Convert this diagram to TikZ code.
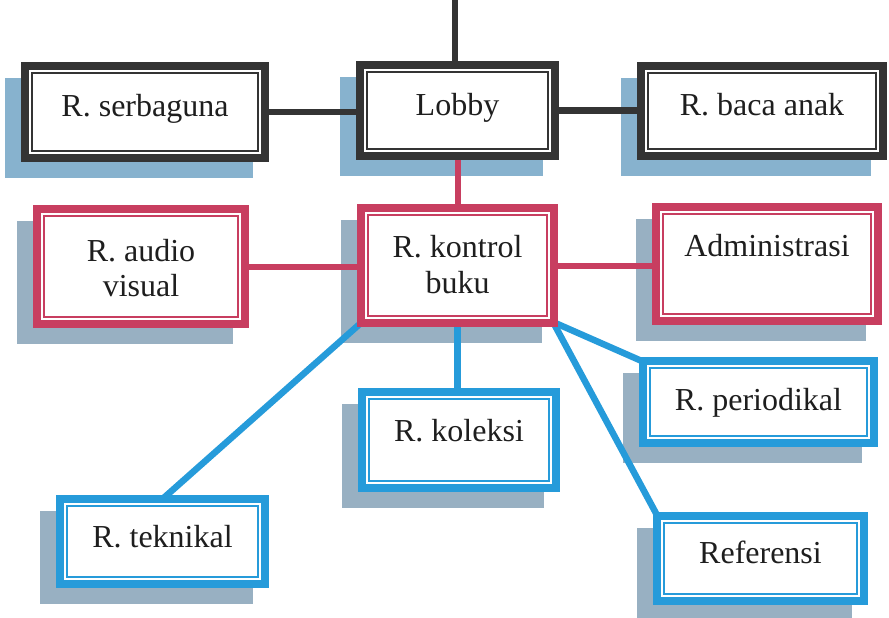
\documentclass[tikz,border=0pt]{standalone}
\usepackage{fontspec}
\setmainfont{Liberation Serif}
\pgfdeclarelayer{shadowlayer}
\pgfdeclarelayer{linelayer}
\pgfsetlayers{shadowlayer,linelayer,main}
\definecolor{dk}{RGB}{52,52,52}
\definecolor{pk}{RGB}{200,62,96}
\definecolor{bl}{RGB}{38,155,218}
\definecolor{shA}{RGB}{135,178,206}
\definecolor{shB}{RGB}{152,176,194}
\definecolor{txt}{RGB}{30,30,30}
\tikzset{
  roomframe/.style={rectangle, fill=white, line width=8pt, inner sep=0pt},
  lbl/.style={anchor=base, inner sep=0pt, text=txt, font=\fontsize{32}{38}\selectfont},
  linkdk/.style={dk, line width=6.5pt},
  linkpk/.style={pk, line width=6pt},
  linkbl/.style={bl, line width=6.5pt},
}
\newcommand\roombox[7]{%
  \begin{pgfonlayer}{shadowlayer}
    \fill[#3] (#4-16,#5+16) rectangle (#6-16,#7+16);
  \end{pgfonlayer}
  \node[roomframe, draw=#2, minimum width={(#6-#4-8)*1pt}, minimum height={(#7-#5-8)*1pt}] (#1) at ({(#4+#6)/2},{(#5+#7)/2}) {};
  \draw[#2, line width=2pt] ([shift={(11,11)}]#1.north west) rectangle ([shift={(-11,-11)}]#1.south east);
}
\begin{document}
\begin{tikzpicture}[x=1pt,y=-1pt]
\useasboundingbox (0,0) rectangle (889,618);
% boxes
\roombox{serbaguna}{dk}{shA}{21}{62}{269}{162}
\roombox{lobby}{dk}{shA}{356}{61}{559}{160}
\roombox{baca}{dk}{shA}{637}{62}{887}{160}
\roombox{audio}{pk}{shB}{33}{205}{249}{328}
\roombox{kontrol}{pk}{shB}{357}{204}{558}{327}
\roombox{admin}{pk}{shB}{652}{203}{882}{325}
\roombox{koleksi}{bl}{shB}{358}{388}{560}{492}
\roombox{periodikal}{bl}{shB}{639}{357}{878}{447}
\roombox{teknikal}{bl}{shB}{56}{495}{269}{588}
\roombox{referensi}{bl}{shB}{653}{512}{868}{605}
% labels
\node[lbl] (serbagunaT) at (145,116) {R. serbaguna};
\node[lbl] (lobbyT) at (457.5,115) {Lobby};
\node[lbl] (bacaT) at (762,115) {R. baca anak};
\node[lbl] (audioT1) at (141,261) {R. audio};
\node[lbl] (audioT2) at (141,296) {visual};
\node[lbl] (kontrolT1) at (457.5,257) {R. kontrol};
\node[lbl] (kontrolT2) at (457.5,293) {buku};
\node[lbl] (adminT) at (767,256) {Administrasi};
\node[lbl] (koleksiT) at (459,441) {R. koleksi};
\node[lbl] (periodikalT) at (758.5,410) {R. periodikal};
\node[lbl] (teknikalT) at (162.5,547) {R. teknikal};
\node[lbl] (referensiT) at (760.5,563) {Referensi};
% connectors
\coordinate (top) at (455,0);
\begin{pgfonlayer}{linelayer}
  \draw[linkdk] (top) -- (top |- lobby.center);
  \draw[linkdk] (serbaguna.center) -- (serbaguna.center -| lobby.center);
  \draw[linkdk] (lobby.center) -- (lobby.center -| baca.center);
  \draw[linkpk] (lobby.center) -- (lobby.center |- kontrol.center);
  \draw[linkpk] (audio.center) -- (audio.center -| kontrol.center);
  \draw[linkpk] (kontrol.center) -- (kontrol.center -| admin.center);
  \draw[linkbl] (kontrol.center) -- (kontrol.center |- koleksi.center);
  \draw[linkbl] ([shift={(5,-5)}]kontrol.south west) -- ([shift={(0,4)}]teknikal.north);
  \draw[linkbl] ([shift={(-5,-5)}]kontrol.south east) -- ([shift={(5,5)}]periodikal.north west);
  \draw[linkbl] ([shift={(-5,-5)}]kontrol.south east) -- ([shift={(5,5)}]referensi.north west);
\end{pgfonlayer}
\end{tikzpicture}
\end{document}
